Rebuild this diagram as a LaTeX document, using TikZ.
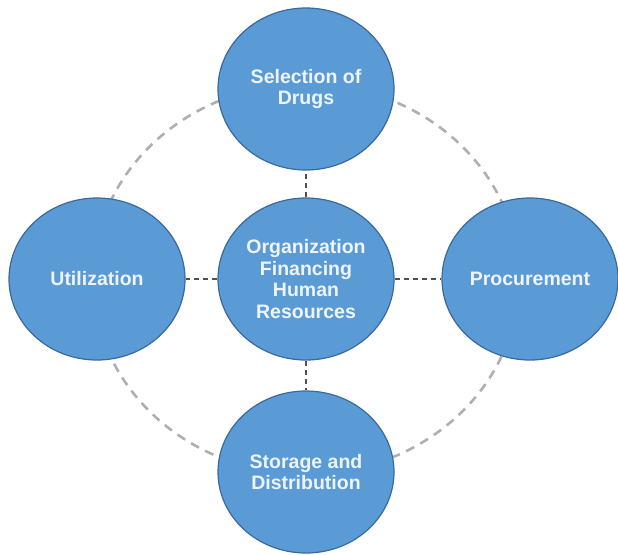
\documentclass[tikz,border=0pt]{standalone}
\usepackage{fontspec}
\setmainfont{Liberation Sans}
\usetikzlibrary{shapes.geometric}
\definecolor{cfill}{RGB}{91,155,213}
\definecolor{cedge}{RGB}{58,104,160}
\definecolor{ring}{RGB}{175,175,175}
\definecolor{link}{RGB}{80,80,80}
\definecolor{txt}{RGB}{238,244,250}
\tikzset{
  bubble/.style={ellipse, fill=cfill, draw=cedge, line width=1.2pt,
    minimum width=176pt, minimum height=162pt, inner sep=0pt,
    text=txt, align=center, font=\bfseries\fontsize{19.5}{21.8}\selectfont},
  ringline/.style={draw=ring, line width=2.6pt, dash pattern=on 9pt off 7pt},
  linkline/.style={draw=link, line width=2.2pt, dash pattern=on 5pt off 4pt}
}
\begin{document}
\begin{tikzpicture}[x=1pt,y=-1pt]
\useasboundingbox (0,0) rectangle (618,554);
\draw[ringline] (306,279) ellipse [x radius=213, y radius=195];
\node[bubble] (top) at (306,89) {Selection of\\Drugs};
\node[bubble] (mid) at (306,279) {Organization\\Financing\\Human\\Resources};
\node[bubble] (left) at (97,279) {Utilization};
\node[bubble] (right) at (530,279) {Procurement};
\node[bubble] (bot) at (306,472) {Storage and\\Distribution};
\draw[linkline] (mid.north) -- (top.south);
\draw[linkline] (mid.south) -- (bot.north);
\draw[linkline] (mid.west) -- (left.east);
\draw[linkline] (mid.east) -- (right.west);
\end{tikzpicture}
\end{document}
